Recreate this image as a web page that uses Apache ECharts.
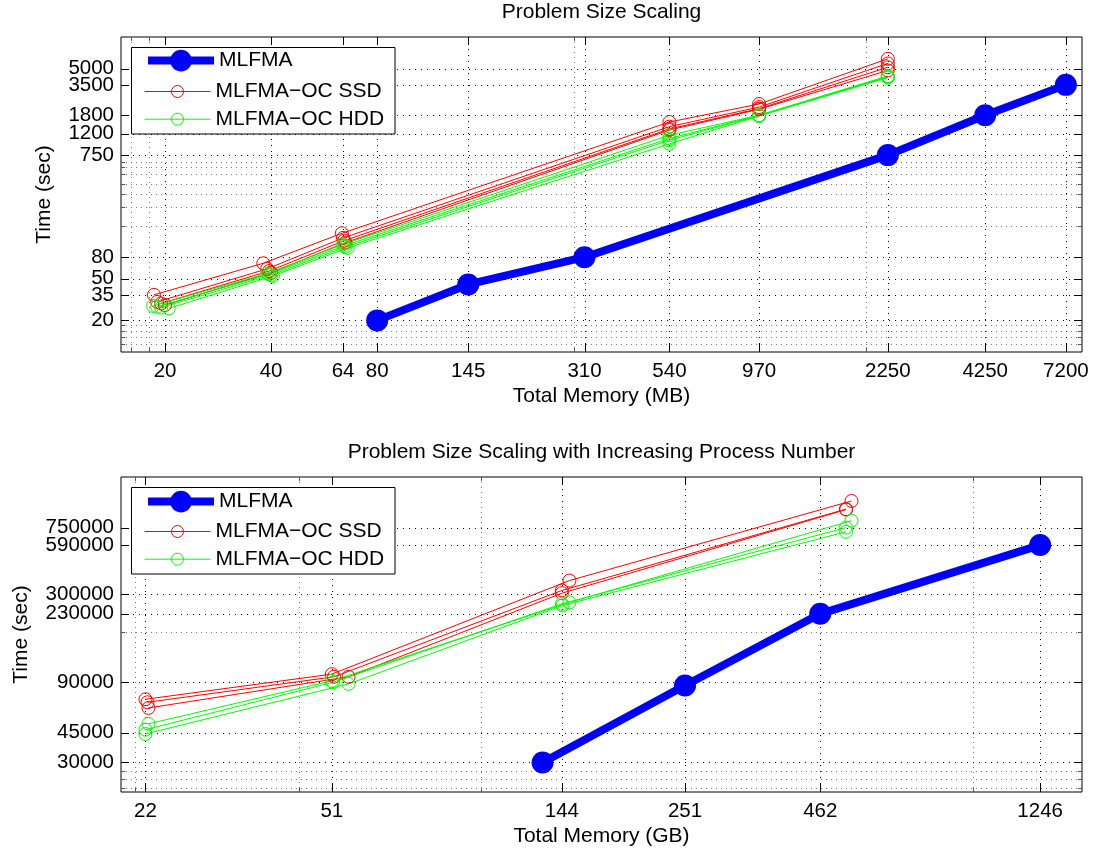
<!DOCTYPE html>
<html><head><meta charset="utf-8">
<script src="https://cdn.jsdelivr.net/npm/echarts@6/dist/echarts.min.js"></script>
<style>html,body{margin:0;padding:0;background:#fff}#c{width:1098px;height:855px}</style>
</head><body><div id="c"></div><script>
// ---------- data ----------
const topTitle = 'Problem Size Scaling';
const topXName = 'Total Memory (MB)';
const topYName = 'Time (sec)';
const topXRange = [15, 8000];
const topYRange = [10, 10000];
const topXTicks = [20, 40, 64, 80, 145, 310, 540, 970, 2250, 4250, 7200];
const topYTicks = [20, 35, 50, 80, 750, 1200, 1800, 3500, 5000];
const topXMinor = [16, 18, 290, 1950];
const topYMinor = [12, 14, 16, 18, 160, 240, 320, 400, 500, 580, 650];

const topMlfmaMem = [80, 145, 310, 2250, 4250, 7200];
const topMlfmaTime = [20, 44, 80, 750, 1800, 3500];

const topSsdMem = [
  [18.6, 38, 63.5, 540, 970, 2250],
  [19, 39, 64, 540, 970, 2250],
  [19.5, 39.5, 64.5, 540, 970, 2250],
  [20, 40, 65, 540, 970, 2250]
];
const topSsdTime = [
  [35, 70, 135, 1550, 2300, 6200],
  [30, 62, 122, 1400, 2150, 5600],
  [29, 59, 115, 1330, 2080, 5150],
  [28, 57, 110, 1300, 2050, 4800]
];
const topHddMem = [
  [18.5, 39, 64, 540, 970, 2250],
  [19, 39.5, 64.5, 540, 970, 2250],
  [19.5, 40, 65, 540, 970, 2250],
  [20.5, 40.5, 66, 540, 970, 2250]
];
const topHddTime = [
  [27.5, 56, 106, 1160, 1800, 4250],
  [27, 55, 103, 1080, 1790, 4200],
  [26.5, 54, 100, 1040, 1780, 4150],
  [26, 53, 98, 960, 1770, 4100]
];

const botTitle = 'Problem Size Scaling with Increasing Process Number';
const botXName = 'Total Memory (GB)';
const botYName = 'Time (sec)';
const botXRange = [19.7, 1505];
const botYRange = [20000, 1500000];
const botXTicks = [22, 51, 144, 251, 462, 1246];
const botYTicks = [30000, 45000, 90000, 230000, 300000, 590000, 750000];
const botXMinor = [21, 44, 100, 920];
const botYMinor = [21200, 23800, 26500, 180000];

const botMlfmaMem = [132, 251, 462, 1246];
const botMlfmaTime = [30000, 86000, 230000, 590000];

const botSsdMem = [
  [22, 51, 149, 532],
  [22.2, 51.5, 144, 519],
  [22.3, 55, 144, 519]
];
const botSsdTime = [
  [71300, 100600, 362700, 1080000],
  [68400, 97000, 316600, 966000],
  [63300, 97000, 305000, 960000]
];
const botHddMem = [
  [22.3, 51, 149, 532],
  [22, 51.3, 144, 519],
  [22, 55, 144.5, 519]
];
const botHddTime = [
  [50900, 91800, 269000, 824000],
  [47000, 90000, 263700, 750000],
  [44300, 88000, 258000, 708000]
];

const nameMlfma = 'MLFMA';
const nameSsd = 'MLFMA\u2212OC SSD';
const nameHdd = 'MLFMA\u2212OC HDD';

// ---------- styling / building ----------
const FONT = '"Liberation Sans", Arial, Helvetica, sans-serif';
const FS = 21;
const FS_TICK = 20.5;
const BLUE = '#0000ff', RED = '#ff0000', GREEN = '#00ff00';

function pairs(xs, ys) { return xs.map((x, i) => [x, ys[i]]); }

function mlfmaSeries(xs, ys, gi) {
  return {type: 'line', name: nameMlfma, xAxisIndex: gi, yAxisIndex: gi, data: pairs(xs, ys),
    symbol: 'circle', symbolSize: 22, lineStyle: {color: BLUE, width: 8},
    itemStyle: {color: BLUE}, z: 5, animation: false, silent: true};
}
function ocSeries(name, color, xs, ys, gi) {
  return {type: 'line', name: name, xAxisIndex: gi, yAxisIndex: gi, data: pairs(xs, ys),
    symbol: 'circle', symbolSize: 13, showAllSymbol: true, lineStyle: {color: color, width: 1},
    itemStyle: {color: 'rgba(255,255,255,0)', borderColor: color, borderWidth: 1},
    z: 4, animation: false, silent: true};
}

function tickSeries(gi, axis, values, major, otherMin) {
  return {
    type: 'custom', xAxisIndex: gi, yAxisIndex: gi, silent: true, z: 1, animation: false, clip: false,
    data: values.map(v => axis === 'x' ? [v, otherMin] : [otherMin, v]),
    renderItem: function (params, api) {
      const cs = params.coordSys;
      const p = api.coord([api.value(0), api.value(1)]);
      const kids = [];
      const gridStyle = major ? {stroke: '#000', lineWidth: 1, lineDash: [1, 5]}
                              : {stroke: '#777', lineWidth: 1, lineDash: [1, 4]};
      const tl = major ? 8 : 4;
      const tickStyle = {stroke: major ? '#000' : '#555', lineWidth: 1};
      if (axis === 'x') {
        const x = Math.round(p[0]) + 0.5;
        const t = cs.y, b = cs.y + cs.height;
        kids.push({type: 'line', shape: {x1: x, y1: t, x2: x, y2: b}, style: gridStyle});
        kids.push({type: 'line', shape: {x1: x, y1: b, x2: x, y2: b - tl}, style: tickStyle});
        kids.push({type: 'line', shape: {x1: x, y1: t, x2: x, y2: t + tl}, style: tickStyle});
        if (major) kids.push({type: 'text', x: p[0], y: b + 19,
          style: {text: String(api.value(0)), fill: '#000', font: FS_TICK + 'px ' + FONT, align: 'center', verticalAlign: 'middle'}});
      } else {
        const y = Math.round(p[1]) + 0.5;
        const l = cs.x, r = cs.x + cs.width;
        kids.push({type: 'line', shape: {x1: l, y1: y, x2: r, y2: y}, style: gridStyle});
        kids.push({type: 'line', shape: {x1: l, y1: y, x2: l + tl, y2: y}, style: tickStyle});
        kids.push({type: 'line', shape: {x1: r, y1: y, x2: r - tl, y2: y}, style: tickStyle});
        if (major) kids.push({type: 'text', x: l - 7, y: p[1],
          style: {text: String(api.value(1)), fill: '#000', font: FS_TICK + 'px ' + FONT, align: 'right', verticalAlign: 'middle'}});
      }
      return {type: 'group', children: kids};
    }
  };
}

const series = [];
series.push(tickSeries(0, 'x', topXMinor, false, topYRange[0]));
series.push(tickSeries(0, 'y', topYMinor, false, topXRange[0]));
series.push(tickSeries(0, 'x', topXTicks, true, topYRange[0]));
series.push(tickSeries(0, 'y', topYTicks, true, topXRange[0]));
series.push(tickSeries(1, 'x', botXMinor, false, botYRange[0]));
series.push(tickSeries(1, 'y', botYMinor, false, botXRange[0]));
series.push(tickSeries(1, 'x', botXTicks, true, botYRange[0]));
series.push(tickSeries(1, 'y', botYTicks, true, botXRange[0]));

series.push(mlfmaSeries(topMlfmaMem, topMlfmaTime, 0));
topSsdMem.forEach((m, i) => series.push(ocSeries(nameSsd, RED, m, topSsdTime[i], 0)));
topHddMem.forEach((m, i) => series.push(ocSeries(nameHdd, GREEN, m, topHddTime[i], 0)));
series.push(mlfmaSeries(botMlfmaMem, botMlfmaTime, 1));
botSsdMem.forEach((m, i) => series.push(ocSeries(nameSsd, RED, m, botSsdTime[i], 1)));
botHddMem.forEach((m, i) => series.push(ocSeries(nameHdd, GREEN, m, botHddTime[i], 1)));

const txt = {fontSize: FS, fontFamily: FONT, color: '#000', fontWeight: 'normal'};

function axisX(gi, range, name) {
  return {gridIndex: gi, type: 'log', logBase: 10, min: range[0], max: range[1],
    axisLine: {show: false}, axisTick: {show: false}, axisLabel: {show: false},
    splitLine: {show: false}, minorTick: {show: false}, minorSplitLine: {show: false},
    name: name, nameLocation: 'middle', nameGap: 34, nameTextStyle: txt};
}
function axisY(gi, range, name, gap) {
  return {gridIndex: gi, type: 'log', logBase: 10, min: range[0], max: range[1],
    axisLine: {show: false}, axisTick: {show: false}, axisLabel: {show: false},
    splitLine: {show: false}, minorTick: {show: false}, minorSplitLine: {show: false},
    name: name, nameLocation: 'middle', nameRotate: 90, nameGap: gap, nameTextStyle: txt};
}

function legends(top1, top2) {
  const common = {orient: 'vertical', left: 144, padding: 0, itemWidth: 66, selectedMode: false,
    textStyle: {fontSize: FS, fontFamily: FONT, color: '#000', lineHeight: 20},
    lineStyle: {width: 'inherit'}, itemStyle: {borderWidth: 'inherit'}, z: 10};
  return [
    Object.assign({}, common, {data: [nameMlfma], top: top1, itemHeight: 27, itemGap: 0}),
    Object.assign({}, common, {data: [nameSsd, nameHdd], top: top2, itemHeight: 15, itemGap: 6.7})
  ];
}

const option = {
  animation: false,
  backgroundColor: '#fff',
  title: [
    {text: topTitle, left: 601.5, top: 2, textAlign: 'center', padding: 0, textStyle: txt},
    {text: botTitle, left: 601.5, top: 442, textAlign: 'center', padding: 0, textStyle: txt}
  ],
  grid: [
    {left: 121, top: 37, width: 961, height: 315, show: true, borderColor: '#000', borderWidth: 1, backgroundColor: '#fff', containLabel: false, outerBoundsMode: 'none'},
    {left: 121, top: 477, width: 961, height: 315, show: true, borderColor: '#000', borderWidth: 1, backgroundColor: '#fff', containLabel: false, outerBoundsMode: 'none'}
  ],
  xAxis: [axisX(0, topXRange, topXName), axisX(1, botXRange, botXName)],
  yAxis: [axisY(0, topYRange, topYName, 66), axisY(1, botYRange, botYName, 89)],
  legend: legends(49.8, 81).concat(legends(490.8, 521)),
  graphic: {elements: [
    {type: 'rect', shape: {x: 131.5, y: 47.5, width: 263.5, height: 86.5}, style: {fill: '#fff', stroke: '#000', lineWidth: 1}, z: 9, silent: true},
    {type: 'rect', shape: {x: 131.5, y: 487.5, width: 263.5, height: 86.5}, style: {fill: '#fff', stroke: '#000', lineWidth: 1}, z: 9, silent: true}
  ]},
  series: series
};

const chart = echarts.init(document.getElementById('c'), null, {renderer: 'canvas'});
chart.setOption(option);
</script></body></html>
